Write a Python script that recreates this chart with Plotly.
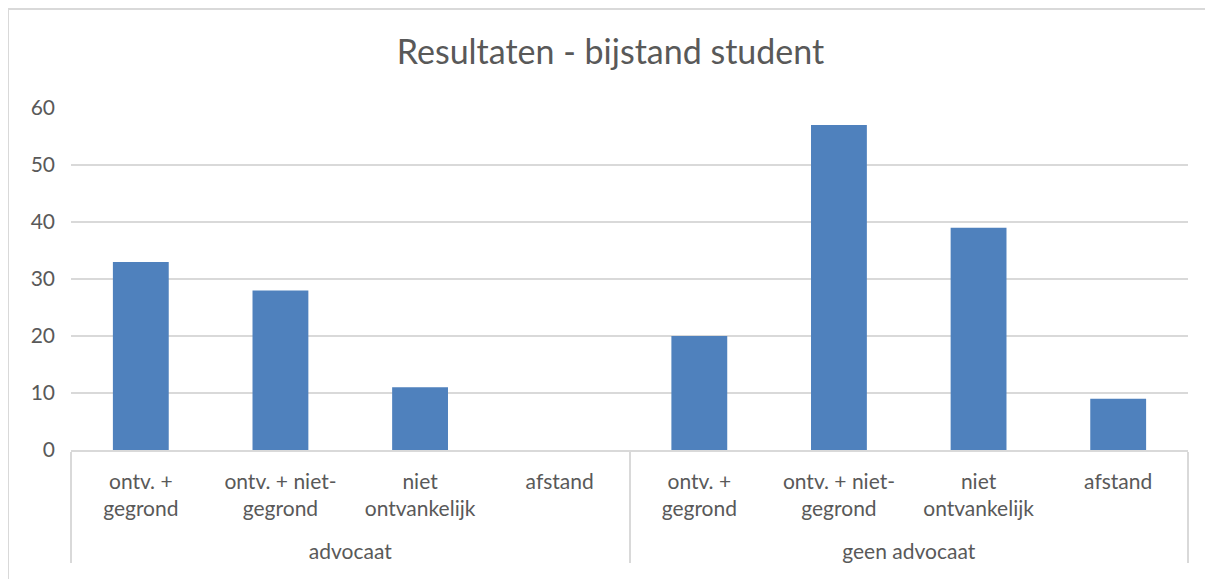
import plotly.graph_objects as go

groups = ["<br>advocaat"] * 4 + ["<br>geen advocaat"] * 4
outcomes = ["ontv. +<br>gegrond", "ontv. + niet-<br>gegrond", "niet<br>ontvankelijk", "afstand"] * 2
values = [33, 28, 11, 0, 20, 57, 39, 9]

grey = "#595959"
line_grey = "#D9D9D9"

# page has an 8px body margin, so the figure is drawn 8px right/down
W, H = 1205, 571
fig = go.Figure(go.Bar(x=[groups, outcomes], y=values, marker_color="#4F81BD",
                       marker_line_width=0))

fig.update_layout(
    width=W, height=H,
    margin=dict(l=63, r=25, t=100, b=129),
    paper_bgcolor="white", plot_bgcolor="white",
    font=dict(family="Lato, sans-serif", color=grey, size=21),
    title=dict(text="Resultaten - bijstand student", x=0.5, xanchor="center",
               y=1 - 44 / H, yanchor="middle", font=dict(size=34, color=grey)),
    bargap=0.6,
    showlegend=False,
    shapes=[dict(type="rect", xref="paper", yref="paper",
                 x0=(0 - 63) / 1117, x1=(1225 - 63) / 1117,
                 y0=-(590 - 442) / 342, y1=(442 - 1) / 342,
                 line=dict(color=line_grey, width=2), layer="below")],
)
fig.update_xaxes(type="multicategory", showline=True, linecolor=line_grey, linewidth=1.5,
                 showgrid=False, ticks="", showdividers=True, dividercolor=line_grey,
                 dividerwidth=1.5, tickfont=dict(size=21, color=grey), ticklabelstandoff=12)
fig.update_yaxes(range=[0, 60], dtick=10, showgrid=True, gridcolor=line_grey, gridwidth=1.5,
                 zeroline=False, showline=False, ticks="", tickfont=dict(size=21, color=grey),
                 ticklabelstandoff=15)

fig.write_html("out.html")
